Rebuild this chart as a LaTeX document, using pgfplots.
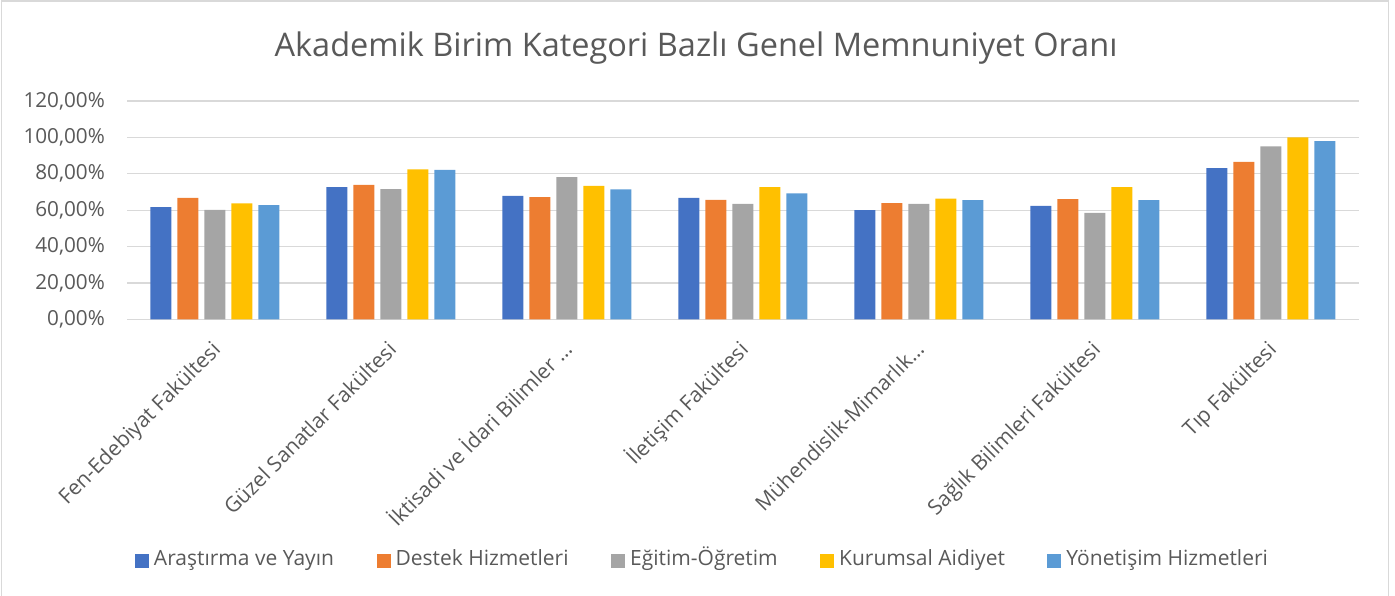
\documentclass[border=0pt]{standalone}
\usepackage{fontspec}
\setmainfont{Open Sans}
\usepackage{pgfplots}
\usepackage{pgfplotstable}
\pgfplotsset{compat=1.18}
\definecolor{c1}{HTML}{4472C4}
\definecolor{c2}{HTML}{ED7D31}
\definecolor{c3}{HTML}{A5A5A5}
\definecolor{c4}{HTML}{FFC000}
\definecolor{c5}{HTML}{5B9BD5}
\definecolor{txt}{HTML}{595959}
\definecolor{gridc}{HTML}{D9D9D9}
\pgfplotstableread{
x A D E K Y
0 61.7 66.8 60.2 63.7 62.8
1 72.7 73.9 71.6 82.4 82.2
2 67.9 67.2 78.2 73.4 71.4
3 66.8 65.7 63.5 72.7 69.2
4 60.0 63.9 63.5 66.4 65.5
5 62.4 66.1 58.5 72.7 65.5
6 83.1 86.6 95.0 100.0 98.0
}\data
\begin{document}
\begin{tikzpicture}
\path[use as bounding box] (0pt,0pt) rectangle (1395pt,596pt);
\draw[color=gridc, line width=1.2pt] (1.5pt,-5pt) -- (1.5pt,595pt) -- (1388.5pt,595pt) -- (1388.5pt,-5pt);
\node[font=\fontsize{32.5}{38}\selectfont, text=txt, anchor=base] at (696pt,539.3pt) {Akademik Birim Kategori Bazlı Genel Memnuniyet Oranı};
\begin{axis}[
  at={(127pt,276.7pt)}, anchor=south west,
  scale only axis, width=1232pt, height=218.3pt,
  xmin=-0.5, xmax=6.5, ymin=0, ymax=120,
  ybar=6pt, bar width=21pt,
  axis lines*=left, axis line style={draw=none},
  major tick length=0pt,
  ymajorgrids, grid style={color=gridc, line width=1.2pt},
  ytick={0,20,40,60,80,100,120},
  yticklabels={{0,00\%},{20,00\%},{40,00\%},{60,00\%},{80,00\%},{100,00\%},{120,00\%}},
  yticklabel style={font=\fontsize{20.7}{24}\selectfont, text=txt, anchor=east, inner sep=0pt, xshift=-22pt},
  xtick={0,1,2,3,4,5,6},
  xticklabels={{Fen-Edebiyat Fakültesi},{Güzel Sanatlar Fakültesi},{İktisadi ve İdari Bilimler …},{İletişim Fakültesi},{Mühendislik-Mimarlık…},{Sağlık Bilimleri Fakültesi},{Tıp Fakültesi}},
  xticklabel style={font=\fontsize{21}{24}\selectfont, text=txt, xshift=-4pt, yshift=-21pt, rotate=45, anchor=north east, inner sep=0pt, text height=15pt, text depth=5pt},
  legend columns=5,
  legend style={at={(0.4663,-1.107)}, anchor=center, draw=none, fill=none,
    font=\fontsize{21}{24}\selectfont, text=txt,
    nodes={inner sep=0pt, text height=15pt, text depth=5pt},
    /tikz/every odd column/.append style={column sep=5pt},
    /tikz/every even column/.append style={column sep=42.5pt}},
  legend image code/.code={\fill[#1] (0pt,-7pt) rectangle (14pt,7pt);},
  legend cell align=left,
]
\addplot[fill=c1, draw=none] table[x=x, y=A] {\data};
\addplot[fill=c2, draw=none] table[x=x, y=D] {\data};
\addplot[fill=c3, draw=none] table[x=x, y=E] {\data};
\addplot[fill=c4, draw=none] table[x=x, y=K] {\data};
\addplot[fill=c5, draw=none] table[x=x, y=Y] {\data};
\legend{Araştırma ve Yayın, Destek Hizmetleri, Eğitim-Öğretim, Kurumsal Aidiyet, Yönetişim Hizmetleri}
\end{axis}
\end{tikzpicture}
\end{document}
